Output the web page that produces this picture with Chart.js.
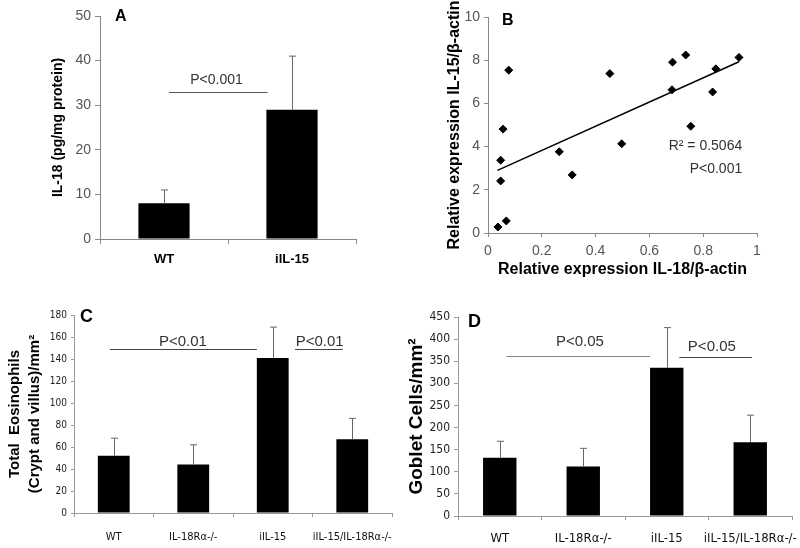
<!DOCTYPE html>
<html>
<head>
<meta charset="utf-8">
<script src="https://cdn.jsdelivr.net/npm/chart.js@4"></script>
<style>
    body { margin: 0; background: #fff; }
    #lienzo { position: relative; width: 800px; height: 548px; overflow: hidden; }
    canvas { position: absolute; }
</style>
</head>
<body>
<div id="lienzo">
    <canvas id="panelA" width="380" height="270" style="left:0;top:0"></canvas>
    <canvas id="panelB" width="420" height="280" style="left:380px;top:0"></canvas>
    <canvas id="panelC" width="400" height="278" style="left:0;top:270px"></canvas>
    <canvas id="panelD" width="400" height="278" style="left:400px;top:270px"></canvas>
</div>
<script>
// A: IL-18 en tejido
const gruposA = ["WT", "iIL-15"]
const il18 = [8, 29]
const il18Error = [11, 41]

// B: correlación IL-18 / IL-15
const il18Relativa = [0.037, 0.068, 0.047, 0.047, 0.056, 0.077, 0.265, 0.313, 0.453, 0.497, 0.684, 0.686, 0.735, 0.754, 0.835, 0.847, 0.933]
const il15Relativa = [0.28, 0.56, 2.41, 3.37, 4.81, 7.54, 3.76, 2.69, 7.38, 4.13, 6.63, 7.91, 8.24, 4.94, 6.53, 7.60, 8.13]
const tendenciaX = [0.035, 0.933]
const tendenciaY = [2.9, 7.93]

// C y D
const gruposCD = ["WT", "IL-18Rα-/-", "iIL-15", "iIL-15/IL-18Rα-/-"]
const eosinofilos = [52, 44, 141, 67]
const eosinofilosError = [68, 62, 169, 86]
const caliciformes = [132, 112, 335, 167]
const caliciformesError = [169, 153, 426, 228]

const arial = "'Liberation Sans', Arial, sans-serif"
const estrecha = "'Liberation Sans Narrow', 'DejaVu Sans Condensed', 'Liberation Sans', sans-serif"

// Barras de error, líneas de significación, textos y letra del panel
const notas = {
    id: "notas",
    afterDatasetsDraw(chart, args, opts) {
        const ctx = chart.ctx
        const x = chart.scales.x
        const y = chart.scales.y
        ctx.save()

        if (opts.error) {
            const meta = chart.getDatasetMeta(0)
            ctx.strokeStyle = "#666"
            ctx.lineWidth = 1
            opts.error.forEach((valor, i) => {
                const px = Math.round(meta.data[i].x) + 0.5
                const arriba = y.getPixelForValue(valor)
                ctx.beginPath()
                ctx.moveTo(px, meta.data[i].y)
                ctx.lineTo(px, arriba)
                ctx.moveTo(px - 3.5, arriba)
                ctx.lineTo(px + 3.5, arriba)
                ctx.stroke()
            })
        }

        for (const l of opts.lineas || []) {
            const py = Math.round(y.getPixelForValue(l.y)) + 0.5
            ctx.strokeStyle = l.color || "#555"
            ctx.lineWidth = 1.2
            ctx.beginPath()
            ctx.moveTo(x.getPixelForValue(l.x1), py)
            ctx.lineTo(x.getPixelForValue(l.x2), py)
            ctx.stroke()
        }

        for (const t of opts.textos || []) {
            ctx.fillStyle = "#333"
            ctx.font = t.size + "px " + arial
            ctx.textAlign = t.align || "center"
            ctx.textBaseline = "middle"
            ctx.fillText(t.texto, x.getPixelForValue(t.x), y.getPixelForValue(t.y))
        }

        if (opts.letra) {
            ctx.fillStyle = "#000"
            ctx.font = "bold " + opts.letra.size + "px " + arial
            ctx.textAlign = "left"
            ctx.textBaseline = "middle"
            ctx.fillText(opts.letra.texto, chart.chartArea.left + opts.letra.dx, chart.chartArea.top + opts.letra.dy)
        }
        ctx.restore()
    }
}
Chart.register(notas)

function basico(padding, notasPanel) {
    return {
        responsive: false,
        animation: false,
        devicePixelRatio: 1,
        layout: { padding },
        plugins: {
            legend: { display: false },
            tooltip: { enabled: false },
            notas: notasPanel
        }
    }
}

// Panel A
const opcionesA = basico({ left: 0, top: 16, right: 24, bottom: 0 }, {
    error: il18Error,
    lineas: [{ x1: 0.04, x2: 0.81, y: 33 }],
    textos: [{ texto: "P<0.001", x: 0.41, y: 35.6, size: 14 }],
    letra: { texto: "A", dx: 15, dy: 1, size: 16 }
})
opcionesA.scales = {
    x: {
        grid: { drawOnChartArea: false, offset: true, tickLength: 5, color: "#888" },
        border: { color: "#888" },
        ticks: { color: "#000", font: { family: arial, size: 13, weight: "bold" }, padding: 8 },
        afterFit: s => { s.height = 31 }
    },
    y: {
        min: 0, max: 50,
        ticks: { stepSize: 10, color: "#555", font: { family: arial, size: 14 }, padding: 4 },
        grid: { drawOnChartArea: false, tickLength: 5, color: "#888" },
        border: { color: "#888" },
        title: { display: true, text: "IL-18 (pg/mg protein)", color: "#000", font: { family: arial, size: 14, weight: "bold" }, padding: { top: 49.6, bottom: 0 } },
        afterFit: s => { s.width = 100 }
    }
}
new Chart(document.getElementById("panelA"), {
    type: "bar",
    data: {
        labels: gruposA,
        datasets: [{ data: il18, backgroundColor: "#000", barPercentage: 0.4, categoryPercentage: 1 }]
    },
    options: opcionesA
})

// Panel B
const puntosB = il18Relativa.map((v, i) => ({ x: v, y: il15Relativa[i] }))
const tendencia = tendenciaX.map((v, i) => ({ x: v, y: tendenciaY[i] }))
const opcionesB = basico({ left: 0, top: 17, right: 43, bottom: 0 }, {
    textos: [
        { texto: "R² = 0.5064", x: 0.945, y: 4.03, size: 14, align: "right" },
        { texto: "P<0.001", x: 0.945, y: 2.96, size: 14, align: "right" }
    ],
    letra: { texto: "B", dx: 14, dy: 4, size: 16 }
})
opcionesB.scales = {
    x: {
        type: "linear", min: 0, max: 1,
        ticks: { stepSize: 0.2, color: "#555", font: { family: arial, size: 14 }, padding: 6, callback: v => String(Math.round(v * 10) / 10) },
        grid: { drawOnChartArea: false, tickLength: 4, color: "#888" },
        border: { color: "#888" },
        title: { display: true, text: "Relative expression IL-18/β-actin", color: "#000", font: { family: arial, size: 16, weight: "bold" }, padding: { top: 0, bottom: 0.4 } },
        afterFit: s => { s.height = 47 }
    },
    y: {
        min: 0, max: 10,
        ticks: { stepSize: 2, color: "#555", font: { family: arial, size: 14 }, padding: 4 },
        grid: { drawOnChartArea: false, tickLength: 4, color: "#888" },
        border: { color: "#888" },
        title: { display: true, text: "Relative expression IL-15/β-actin", color: "#000", font: { family: arial, size: 16, weight: "bold" }, padding: { top: 65.4, bottom: 0 } },
        afterFit: s => { s.width = 108 }
    }
}
new Chart(document.getElementById("panelB"), {
    type: "scatter",
    data: {
        datasets: [
            { data: puntosB, pointStyle: "rectRot", radius: 4, backgroundColor: "#000", borderColor: "#000" },
            { type: "line", data: tendencia, borderColor: "#000", borderWidth: 1.6, pointRadius: 0, fill: false }
        ]
    },
    options: opcionesB
})

// Paneles C y D
function panelBarras(id, valores, errores, caja, y, notasPanel) {
    const opciones = basico(caja.padding, notasPanel)
    opciones.scales = {
        x: {
            grid: { drawOnChartArea: false, offset: true, tickLength: 4, color: "#999" },
            border: { color: "#999" },
            ticks: { color: "#111", font: { family: estrecha, size: caja.fuenteX }, padding: caja.padX, maxRotation: 0, minRotation: 0, autoSkip: false },
            afterFit: s => {
                s.height = caja.altoX
                s.paddingLeft = 0
                s.paddingRight = 0
            }
        },
        y: {
            min: 0, max: y.max,
            ticks: { stepSize: y.paso, color: "#222", font: { family: estrecha, size: caja.fuenteY }, padding: 4 },
            grid: { drawOnChartArea: false, tickLength: caja.tickY, color: "#999" },
            border: { color: "#999" },
            title: { display: true, text: y.titulo, color: "#000", font: { family: arial, size: y.fuente, weight: "bold", lineHeight: y.linea }, padding: { top: y.pad, bottom: 0 } },
            afterFit: s => { s.width = caja.anchoY }
        }
    }
    notasPanel.error = errores
    new Chart(document.getElementById(id), {
        type: "bar",
        data: {
            labels: gruposCD,
            datasets: [{ data: valores, backgroundColor: "#000", barPercentage: 0.4, categoryPercentage: 1 }]
        },
        options: opciones
    })
}

panelBarras("panelC", eosinofilos, eosinofilosError,
    { padding: { left: 0, top: 45, right: 8, bottom: 0 }, altoX: 35, anchoY: 74, fuenteX: 11, fuenteY: 10, padX: 14, tickY: 3 },
    { max: 180, paso: 20, titulo: ["Total  Eosinophils", "(Crypt and villus)/mm²"], fuente: 15, pad: 5, linea: 1.334 },
    {
        lineas: [{ x1: -0.05, x2: 1.80, y: 149, color: "#444" }, { x1: 2.28, x2: 2.88, y: 149, color: "#444" }],
        textos: [{ texto: "P<0.01", x: 0.87, y: 156, size: 15 }, { texto: "P<0.01", x: 2.59, y: 156, size: 15 }],
        letra: { texto: "C", dx: 6, dy: 2, size: 18 }
    })

panelBarras("panelD", caliciformes, caliciformesError,
    { padding: { left: 0, top: 47, right: 8, bottom: 0 }, altoX: 32, anchoY: 58, fuenteX: 13, fuenteY: 12, padX: 10.5, tickY: 4 },
    { max: 450, paso: 50, titulo: "Goblet Cells/mm²", fuente: 19, pad: 5.6, linea: 1.2 },
    {
        lineas: [{ x1: 0.08, x2: 1.80, y: 361, color: "#888" }, { x1: 2.15, x2: 3.02, y: 360, color: "#444" }],
        textos: [{ texto: "P<0.05", x: 0.96, y: 393, size: 15 }, { texto: "P<0.05", x: 2.54, y: 382, size: 15 }],
        letra: { texto: "D", dx: 10, dy: 5, size: 18 }
    })
</script>
</body>
</html>
